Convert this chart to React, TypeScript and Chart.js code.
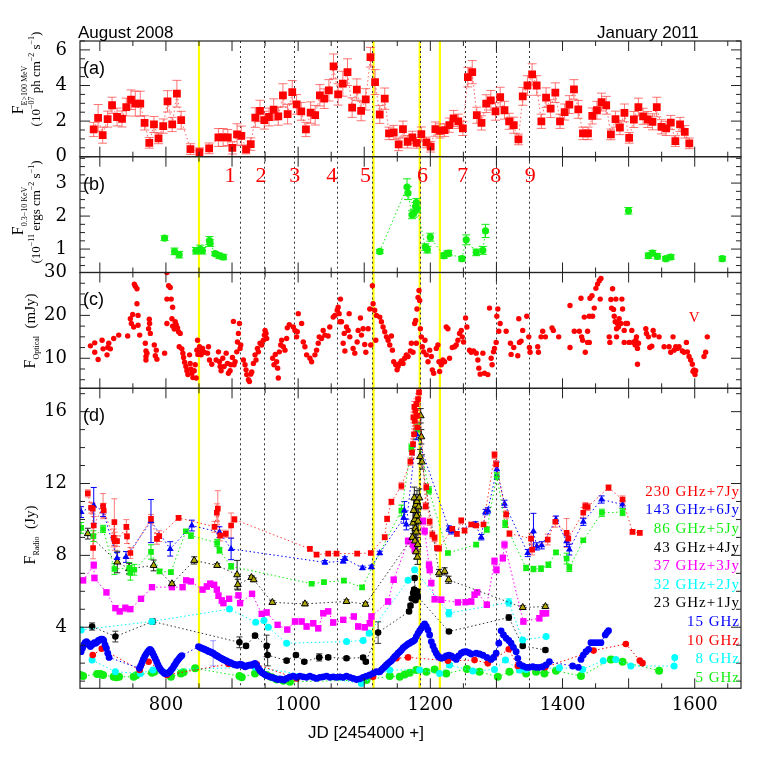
import React, { useEffect, useRef } from 'react';
import { Chart, registerables } from 'chart.js';
Chart.register(...registerables);

// ---------------- DATA ----------------
const X_MIN = 670;
const X_MAX = 1670;
const X_LABELS = [800, 1000, 1200, 1400, 1600];

const yellowLines = [850, 1114, 1184, 1214.5];
const eventLines = [912, 949, 994, 1059, 1112, 1184, 1253, 1300, 1350];
const eventLabelJD = [897, 944, 995, 1051, 1102, 1188, 1249, 1299, 1351];
const eventNames = ['1', '2', '3', '4', '5', '6', '7', '8', '9'];

// (a) gamma-ray flux [JD, flux, err]
const gamma: [number, number, number][] = [
  [690.7, 1.53, 0.4], [697.4, 2.18, 0.75], [704.3, 1.21, 0.45], [711.8, 2.11, 0.45], [718.5, 2.89, 0.45],
  [726, 2.23, 0.5], [733.6, 2.12, 0.45], [740, 2.79, 0.5], [747.2, 3.2, 0.55], [753.7, 2.98, 0.7],
  [761.2, 2.98, 0.7], [767.7, 1.9, 0.4], [774.8, 0.78, 0.3], [781.9, 1.81, 0.45], [788.8, 1.03, 0.3],
  [795.9, 1.72, 0.4], [802.4, 3.11, 0.6], [809.5, 1.81, 0.4], [816.6, 3.54, 0.75], [823.1, 2.05, 0.5],
  [837.1, 0.43, 0.3], [850.7, 0.25, 0.25], [865.4, 0.47, 0.3], [879.4, 1.08, 0.5], [886.5, 1.08, 0.5],
  [893.6, 1.08, 0.45], [900.5, 0.5, 0.35], [907.6, 1.25, 0.6], [914.1, 1.17, 0.55], [921.2, 0.41, 0.25],
  [928.3, 0.71, 0.35], [935.2, 2.2, 0.55], [942.3, 2.57, 0.6], [948.8, 2.05, 0.5], [955.9, 2.23, 0.5],
  [963, 2.65, 0.6], [970, 2.27, 0.5], [977, 3.45, 0.65], [984.1, 2.39, 0.55], [991.1, 3.63, 0.65],
  [997.7, 2.94, 0.55], [1004.7, 2.55, 0.5], [1011.8, 1.53, 0.4], [1018.9, 2.48, 0.6], [1025.8, 2.33, 0.55],
  [1032.9, 3.45, 0.6], [1039.4, 3.26, 0.55], [1046.5, 3.73, 0.6], [1053.6, 5.07, 0.7], [1060.5, 3.5, 0.6],
  [1067.6, 4.1, 0.7], [1074.7, 4.75, 0.75], [1081.7, 2.76, 0.55], [1088.8, 3.77, 0.6], [1095.3, 2.57, 0.55],
  [1102.3, 3.22, 0.6], [1109.4, 5.59, 0.55], [1116.4, 4.19, 0.7], [1123.5, 2.37, 0.5], [1131, 3.26, 0.6],
  [1137.5, 1.31, 0.35], [1144.6, 1.36, 0.4], [1152.1, 0.69, 0.35], [1158.6, 1.55, 0.45], [1165.7, 0.84, 0.35],
  [1172.8, 1.08, 0.35], [1179.3, 0.78, 0.3], [1186.4, 1.27, 0.4], [1194, 0.8, 0.3], [1200.5, 0.56, 0.3],
  [1207.6, 1.55, 0.4], [1214.5, 1.45, 0.4], [1221.6, 1.49, 0.35], [1228.7, 1.77, 0.4], [1235.2, 2.15, 0.45],
  [1242.3, 1.99, 0.4], [1249.2, 1.59, 0.4], [1256.8, 4.47, 0.55], [1263.4, 4.75, 0.65], [1270.3, 2.33, 0.45],
  [1277.4, 1.9, 0.4], [1284.5, 2.98, 0.5], [1291.5, 3.17, 0.55], [1298.6, 2.55, 0.5], [1305.7, 3.35, 0.55],
  [1312.2, 2.61, 0.5], [1319.2, 1.99, 0.45], [1326.2, 1.77, 0.45], [1333.3, 0.97, 0.3], [1339.8, 3.39, 0.5],
  [1346.9, 4.0, 0.55], [1354, 4.62, 0.6], [1360.9, 4.0, 0.55], [1368, 1.99, 0.4], [1375.1, 3.32, 0.55],
  [1382, 2.7, 0.5], [1389.1, 3.6, 0.55], [1396.2, 1.99, 0.4], [1403.2, 2.51, 0.45], [1410.3, 2.93, 0.5],
  [1417.3, 3.78, 0.55], [1423.8, 2.66, 0.5], [1430.9, 1.31, 0.35], [1438.5, 1.31, 0.35], [1445, 2.29, 0.45],
  [1452.1, 2.61, 0.5], [1459, 3.07, 0.5], [1466.1, 2.89, 0.5], [1473.2, 1.25, 0.3], [1480.1, 2.11, 0.45],
  [1486.8, 1.64, 0.4], [1493.7, 2.46, 0.5], [1500.8, 1.06, 0.3], [1507.9, 2.09, 0.45], [1514.8, 2.79, 0.5],
  [1521.9, 2.27, 0.45], [1529, 2.09, 0.45], [1536, 1.96, 0.45], [1542.6, 2.79, 0.55], [1549.6, 1.68, 0.4],
  [1556.7, 1.59, 0.4], [1563.8, 1.92, 0.4], [1570.7, 0.88, 0.3], [1577.8, 1.81, 0.4], [1584.9, 1.4, 0.35],
  [1591.8, 0.75, 0.3],
];

// (b) X-ray flux [JD, flux, err]
const xray: [number, number, number][] = [
  [797.9, 1.33, 0.07], [813, 0.93, 0.1], [820, 0.83, 0.1], [845.3, 0.95, 0.1], [851.8, 1.0, 0.12],
  [855.2, 0.95, 0.1], [865.8, 1.26, 0.12], [866.9, 1.18, 0.1], [874.4, 0.86, 0.06], [880.5, 0.8, 0.08],
  [886.9, 0.76, 0.08], [1123.5, 0.93, 0.06], [1164.7, 2.88, 0.25], [1166.2, 2.7, 0.2], [1172.2, 2.04, 0.12],
  [1175.2, 2.09, 0.12], [1177.7, 2.29, 0.12], [1178.8, 2.41, 0.12], [1180.3, 2.22, 0.12], [1192.4, 1.06, 0.1],
  [1195.5, 0.98, 0.1], [1200, 1.36, 0.12], [1220.5, 0.8, 0.08], [1225.6, 0.86, 0.08], [1227.6, 0.88, 0.08],
  [1247.7, 0.71, 0.07], [1254.3, 1.28, 0.15], [1269.4, 0.9, 0.1], [1279.4, 0.96, 0.12], [1283.5, 1.55, 0.2],
  [1499.8, 2.16, 0.1], [1530, 0.8, 0.08], [1536, 0.88, 0.08], [1543.5, 0.78, 0.08], [1556.2, 0.71, 0.07],
  [1563.8, 0.76, 0.07], [1641.7, 0.71, 0.07],
];
const xrayBreakAfter = [797.9, 820, 886.9, 1283.5, 1499.8, 1563.8];

// (c) optical flux [JD, mJy]
const optical: [number, number][] = [
  [685.8, 12.9], [692.3, 13.6], [692.3, 11.4], [697.4, 9.7], [703.4, 14.2], [704.9, 12.2], [710.9, 10.8], [712, 12.5],
  [713.5, 13.5], [716, 12.2], [721, 14.6], [728.6, 15.4], [742.1, 15.2], [746.2, 19.2], [747.7, 18.1], [749.7, 20.2],
  [751.2, 17.3], [752.2, 27.3], [753.7, 26.8], [756.2, 26.2], [756.2, 22.7], [757.8, 20], [757.8, 17.7], [760.3, 15.4],
  [768.8, 13.5], [769.8, 11.7], [769.8, 10.4], [769.8, 9.6], [771.3, 11.2], [773.8, 16.9], [774.8, 19.1], [775.3, 18.1],
  [776.4, 15.8], [782.4, 13.1], [783.9, 10.6], [785.4, 11.9], [786.4, 9.8], [798, 11.2], [801.5, 30], [801.5, 23.8],
  [801.5, 18.1], [804, 26.9], [806.5, 26.5], [808, 23.8], [810.1, 21.9], [809.1, 19.2], [810.1, 17.5], [812.6, 16.8],
  [814.1, 18.5], [815.6, 17.8], [817.6, 17.1], [819.1, 16.2], [821.6, 15.8], [820.1, 12.7], [824.1, 12.2], [825.6, 11.2],
  [826.7, 10.2], [828.2, 9.1], [830.2, 8.1], [831.7, 7.1], [833.2, 6.2], [835.7, 10.8], [836.7, 8.8], [837.7, 7.5],
  [839.2, 6.5], [840.8, 5.5], [842.8, 7.1], [844.3, 8.5], [845.8, 5.4], [846.8, 11.9], [847.8, 14.2], [848.3, 10.9],
  [850.8, 12.7], [851.8, 11.4], [853.3, 10.8], [855.4, 12.3], [857.9, 11.4], [862.9, 11.2], [864.4, 12.7], [865.9, 9.6],
  [869.4, 8.6], [876, 9.6], [879.5, 11.5], [881, 9.2], [882, 8.1], [883.5, 7.1], [886, 10], [888, 8.1],
  [891.1, 11.2], [893.1, 8.8], [894.6, 6.5], [897.1, 7.1], [898.1, 8.5], [900.6, 10.2], [902.1, 18.6], [903.1, 8.5],
  [904.6, 9.2], [907.2, 11.5], [908.2, 13.8], [909.7, 15.8], [911.2, 18.1], [912.2, 12.3], [913.2, 13.1], [917.2, 9.6],
  [919.7, 8.5], [921.2, 7.3], [922.2, 6.2], [924.8, 5], [926.3, 4.6], [928.3, 6.3], [929.8, 6.8], [932.3, 8.8],
  [934.8, 10.8], [936.3, 9.6], [938.4, 12.3], [939.9, 11.5], [942.4, 13.5], [944.9, 13.1], [947.4, 14.2], [948.9, 15.4],
  [949.9, 16.5], [951.4, 15.8], [952.4, 14.6], [961.5, 10], [963.5, 8.5], [965.5, 10.9], [967.5, 9.2], [969, 7.7],
  [970, 5.4], [971.6, 11.5], [973.6, 13.1], [975.1, 14.2], [977.6, 12.7], [980.1, 11.9], [982.6, 14.6], [983.6, 17.1],
  [986.6, 17.8], [992.7, 17.3], [995.2, 16.5], [997.7, 15], [998.7, 16.2], [1000.2, 20.4], [1005.3, 18.1], [1007.8, 13.8],
  [1010.3, 12.7], [1012.8, 10.8], [1017.9, 10], [1020.4, 9.2], [1025.4, 10.8], [1027.9, 11.9], [1030.4, 13.5], [1031.9, 15],
  [1035.4, 14.6], [1037.9, 16.5], [1040.4, 15.4], [1045.4, 15.2], [1047.9, 17.3], [1053.1, 19.6], [1055.6, 20], [1059.1, 21.2],
  [1060.6, 21.9], [1062.1, 20.4], [1064.1, 23.8], [1063.1, 18.5], [1065.6, 18.5], [1068.1, 13.5], [1069.7, 15.8], [1070.7, 11.7],
  [1073.2, 17.3], [1075.7, 16.5], [1077.2, 20.4], [1078.2, 15], [1083.2, 12.3], [1085.7, 11.2], [1089.3, 13.8], [1090.8, 16.5],
  [1094.3, 19.4], [1095.8, 15.4], [1098.3, 16.9], [1100.8, 13.2], [1102.4, 11.4], [1105.9, 16.9], [1108.4, 21.5], [1109.9, 13.1],
  [1112.4, 26.9], [1113.4, 22.7], [1115.9, 21.2], [1117.5, 14.2], [1118.5, 20],
  [1123.5, 19.6], [1126, 18.5], [1128.5, 17.3], [1131, 16.2], [1133.6, 15], [1136.1, 14.2], [1138.6, 13.1], [1141.1, 15.2],
  [1142.6, 11.9], [1144.6, 9.2], [1147.6, 8.5], [1149.7, 7.3], [1151.2, 8.1], [1153.7, 8.8], [1156.2, 9.4], [1158.7, 8.8],
  [1161.2, 10], [1163.7, 10.8], [1166.3, 10.4], [1169.8, 11.7], [1171.3, 13.5], [1173.8, 11.4], [1176.3, 18.1], [1177.8, 18.8],
  [1178.8, 13.5], [1179.8, 21.5], [1181.4, 24.2], [1182.9, 25.8], [1183.9, 23.5], [1184.9, 16.9], [1186.4, 15], [1187.9, 12.7],
  [1189.9, 11.5], [1191.9, 14.2], [1193.9, 10.8], [1196.5, 9.2], [1199, 11.9], [1201.5, 10.4], [1203, 7.3], [1205, 6.5],
  [1209, 12.3], [1211.5, 13.1], [1213.1, 9.2], [1214.1, 6.9], [1216.6, 8.5], [1219.1, 9.6], [1221.6, 9.2], [1224.1, 17.3],
  [1226.6, 16.9], [1229.1, 10], [1233.2, 12.5], [1236.7, 12.7], [1239.2, 13.1], [1241.7, 14.2], [1244.2, 15.8], [1246.8, 16.5],
  [1248.3, 15], [1250.3, 13.8], [1253.3, 19.4], [1255.3, 17.3], [1259.3, 11.9], [1261.9, 11.4], [1265.4, 11.7], [1269.4, 11.2],
  [1271.9, 9.6], [1273.4, 7.7], [1275.4, 6.3], [1279.5, 11.2], [1282, 6.5], [1287, 6.2], [1289.5, 21.7], [1292, 10],
  [1293.5, 8.5], [1295.6, 11.5], [1297.1, 12.3], [1299.6, 13.7], [1300.6, 19.8], [1302.1, 21.5], [1303.6, 16.3], [1305.6, 18.1],
  [1314.7, 16.3], [1321.2, 13.5], [1322.2, 10.9], [1326.2, 12.5], [1332.3, 10.6], [1333.8, 19.2], [1334.8, 13.7], [1337.3, 14],
  [1339.8, 16.5], [1345.9, 19.8], [1348.9, 15], [1349.9, 12.5], [1350.9, 11.4], [1362.5, 12.7], [1363.5, 11.4], [1367.5, 15],
  [1370, 16.3], [1374.1, 15], [1384.1, 17.1], [1386.1, 16.5], [1394.2, 15], [1411.3, 12.5], [1411.3, 22.3], [1417.8, 16.3],
  [1425.4, 16.3], [1427.9, 24], [1428.9, 15], [1430.4, 14.2], [1432.9, 19.6], [1434.4, 11.4], [1437.9, 16.3], [1437.9, 13.7],
  [1440.5, 13.7], [1440.5, 19.8], [1441.5, 24], [1444.5, 24.6], [1445.5, 19.8], [1448, 21.7], [1450.5, 26.3], [1453, 27.3],
  [1455.6, 28.1], [1458.1, 28.6], [1457, 23.8], [1470.6, 15], [1471.6, 13.7], [1473.2, 23.7], [1474.2, 21.7], [1475.7, 26.2],
  [1477.2, 21.4], [1478.2, 19.8], [1479.7, 18.5], [1480.7, 23.8], [1481.7, 15], [1481.7, 16.9], [1483.2, 18.1], [1484.7, 17.3],
  [1485.7, 19.2], [1488.3, 18.1], [1489.8, 23.8], [1490.8, 21.5], [1493.3, 16.5], [1495.8, 18.1], [1498.3, 18.1], [1493.3, 13.7],
  [1500.8, 13.7], [1504.8, 16.5], [1506.9, 13.7], [1508.4, 13.8], [1509.9, 13.1], [1510.9, 14.2], [1511.9, 15], [1513.4, 8.6],
  [1513.4, 12.3], [1514.9, 13.5], [1526, 16.9], [1527, 15.8], [1530, 15], [1532, 12.5], [1535, 12.8], [1537.1, 16.5],
  [1538.6, 15.4], [1546.1, 15], [1553.7, 12.7], [1561.2, 12.7], [1563.7, 11.4], [1567.2, 15], [1568.8, 11.9], [1571.3, 12.7],
  [1573.8, 12.3], [1576.3, 12.7], [1581.3, 11.7], [1583.8, 11.4], [1587.4, 13.7], [1588.9, 11.5], [1591.4, 10.4], [1593.9, 9.6],
  [1596.4, 8.6], [1597.4, 6.9], [1598.9, 7.3], [1600.4, 6.2], [1601.4, 7.1], [1614, 10.4], [1616.5, 11.4], [1619, 15],
];

// (d) radio flux densities (plotted values include the legend offsets) [JD, Jy, err]
const r230: [number, number, number][] = [
  [681.8, 11.45, 0.2], [686.8, 10.65, 0.3], [689.3, 10.6, 0.3], [689.8, 8.41, 0.6], [690.8, 9.66, 0.5],
  [704.9, 10.74, 0.7], [705.9, 10.5, 0.4], [721, 8.97, 0.5], [722, 9.85, 1.3], [722.5, 8.79, 0.5],
  [726, 8.79, 0.3], [740.1, 9.59, 0.4], [741.1, 9.06, 0.4], [746.2, 8.13, 0.3], [777.4, 10.03, 0.25],
  [786.4, 8.92, 0.3], [789.9, 9.07, 0.3], [819.1, 10.09, 0.12], [873.5, 9.59, 0.3], [877, 10.37, 0.5],
  [878.5, 10.6, 1.0], [882, 9.1, 0.3], [890.6, 9.2, 0.2], [898.6, 9.66, 0.7], [903.6, 10.0, 0.15],
  [1017.8, 8.36, 0.1], [1027.9, 8.04, 0.1], [1045.5, 8.1, 0.1], [1058.1, 8.1, 0.1], [1089.3, 8.1, 0.1],
  [1109.9, 8.13, 0.1], [1131, 9.01, 0.15], [1134.6, 10.03, 0.15], [1141.1, 10.98, 0.15], [1156.2, 11.86, 0.2],
  [1169.8, 13.22, 0.2], [1172.3, 13.72, 0.3], [1173.8, 14.19, 0.3], [1174.3, 15.68, 0.3], [1175.3, 14.74, 0.3],
  [1175.8, 16.27, 0.3], [1176.3, 15.49, 0.3], [1177.3, 16.05, 0.3], [1178.8, 16.42, 0.3], [1179.8, 15.77, 0.3],
  [1180.4, 15.12, 0.3], [1181.4, 16.7, 0.3], [1182.9, 17.07, 0.3], [1192.9, 10.74, 0.2], [1193.9, 11.8, 0.2],
  [1199, 9.87, 0.2], [1203, 9.16, 0.2], [1206.5, 8.97, 0.2], [1210, 8.41, 0.15], [1213.1, 8.38, 0.15],
  [1233.2, 9.48, 0.12], [1240.2, 9.2, 0.12], [1246.8, 9.94, 0.15], [1251.8, 9.38, 0.12], [1261.9, 9.72, 0.12],
  [1269.4, 9.66, 0.12], [1280.5, 9.72, 0.12], [1297.1, 13.59, 0.2], [1299.6, 13.07, 0.2], [1314.7, 10.28, 0.2],
  [1319.7, 9.21, 0.15], [1352.4, 8.93, 0.3], [1353.9, 8.32, 0.3], [1377.6, 8.88, 0.3], [1389.1, 9.87, 0.3],
  [1406.2, 9.25, 0.8], [1408.8, 8.93, 0.3], [1431.4, 10.37, 0.3], [1434.4, 10.74, 0.2], [1438, 10.69, 0.2],
  [1469.6, 11.77, 0.15], [1490.8, 11.11, 0.2], [1505.9, 9.31, 0.1], [1516.9, 9.25, 0.1],
];
const r143: [number, number, number][] = [
  [671.7, 10.41, 0.3], [690.8, 10.78, 1.0], [704.9, 10.46, 0.3], [726, 7.85, 0.3], [739.6, 7.91, 0.3],
  [777.4, 9.91, 1.2], [806.5, 8.36, 0.4], [839.2, 9.66, 0.3], [881, 9.29, 0.3], [898.6, 8.36, 0.6],
  [1040.5, 7.61, 0.1], [1068.2, 7.67, 0.1], [1070.7, 7.82, 0.1], [1097.3, 7.3, 0.1], [1110.9, 7.35, 0.1],
  [1123.5, 8.13, 0.1], [1159.7, 10.09, 0.3], [1160.7, 10.5, 0.5], [1163.7, 9.72, 0.3], [1178.8, 14.74, 0.3],
  [1228.1, 9.49, 0.15], [1231.7, 9.34, 0.15], [1268.4, 9.72, 0.15], [1277, 9.01, 0.15], [1283.5, 10.41, 0.15],
  [1287, 10.5, 0.15], [1300.6, 12.79, 0.4], [1312.2, 10.87, 0.2], [1347.4, 8.13, 0.2], [1356, 9.34, 1.0],
  [1361, 8.5, 0.2], [1368.5, 8.56, 0.2], [1390.1, 9.99, 0.2], [1406.2, 8.79, 0.3], [1410.3, 8.32, 0.3],
  [1431.4, 9.87, 0.2], [1459.1, 11.11, 0.2], [1490.8, 10.83, 0.2],
];
const r86: [number, number, number][] = [
  [671.7, 9.53, 0.3], [690.3, 9.07, 0.3], [704.9, 9.47, 0.2], [722, 7.24, 0.3], [744.7, 7.3, 0.3],
  [746.2, 7.02, 0.4], [752.2, 7.2, 0.3], [777.4, 8.19, 0.4], [790.4, 7.11, 0.1], [807.5, 7.07, 0.1],
  [830.2, 9.34, 0.1], [837.8, 9.1, 0.15], [877.5, 8.69, 0.2], [881, 8.28, 0.15], [898.6, 7.39, 0.15],
  [1020.4, 6.42, 0.1], [1039, 6.51, 0.1], [1069.2, 6.59, 0.1], [1096.8, 6.22, 0.1], [1156.2, 10.5, 0.3],
  [1171.3, 14.0, 0.2], [1180, 15.0, 0.3], [1198, 11.62, 0.2], [1226.6, 8.13, 0.1], [1269.4, 8.6, 0.1],
  [1285.5, 9.44, 0.15], [1300.6, 12.42, 0.2], [1313.2, 9.75, 0.2], [1344.9, 7.3, 0.15], [1356, 7.24, 0.15],
  [1367.5, 7.26, 0.15], [1378.6, 7.48, 0.15], [1390.1, 8.17, 0.1], [1406.2, 7.82, 0.3], [1410.3, 7.3, 0.2],
  [1431.4, 8.84, 0.1], [1459.6, 10.37, 0.2], [1490.8, 10.41, 0.2],
];
const r43: [number, number, number][] = [
  [681.8, 9.21, 0.3], [726.4, 7.63, 0.6], [744.2, 7.26, 0.3], [781.4, 7.44, 0.3], [809.1, 6.42, 0.1],
  [842.8, 7.72, 0.2], [877.5, 7.44, 0.1], [907.7, 6.92, 0.8], [908.7, 6.37, 0.3], [929.3, 6.77, 0.1],
  [932.8, 6.64, 0.1], [961, 5.38, 0.1], [1010.3, 5.3, 0.1], [1073.2, 5.43, 0.1], [1101.9, 5.28, 0.1],
  [1172.8, 9.0, 0.5], [1173.8, 9.8, 0.6], [1174.8, 10.5, 0.6], [1175.8, 11.2, 0.6], [1176.3, 10.0, 0.5],
  [1176.8, 8.8, 0.5], [1177.3, 9.5, 0.5], [1177.8, 10.8, 0.6], [1178.3, 8.2, 0.4], [1178.8, 9.3, 0.5],
  [1179.3, 10.2, 0.5], [1179.8, 11.0, 0.6], [1180.4, 7.9, 0.4], [1180.9, 8.6, 0.4], [1181.4, 9.9, 0.5],
  [1182.4, 10.7, 0.5], [1183.4, 11.2, 0.5], [1184.4, 13.5, 0.4], [1185.4, 15.77, 0.4], [1186.4, 14.6, 0.4],
  [1187.4, 13.2, 0.4], [1213.1, 7.02, 0.2], [1221.6, 7.11, 0.2], [1227.6, 6.64, 0.2], [1339.8, 5.1, 0.1],
  [1374.1, 5.15, 0.1],
];
const r37: [number, number, number][] = [
  [674.7, 6.61, 0.15], [690.8, 7.45, 0.2], [691.8, 6.74, 0.15], [710, 5.94, 0.15], [723.5, 5.06, 0.15],
  [730.1, 4.88, 0.15], [738.6, 5.06, 0.2], [746.2, 5.01, 0.15], [762.3, 5.58, 0.15], [778.9, 6.23, 0.15],
  [809.1, 6.23, 0.15], [825.2, 6.23, 0.15], [830.7, 6.61, 0.15], [837.8, 6.55, 0.15], [855.4, 6.09, 0.15],
  [861.9, 6.27, 0.15], [867, 6.42, 0.15], [873, 6.36, 0.15], [877, 6.09, 0.15], [879.5, 5.75, 0.15],
  [884.5, 5.49, 0.15], [887, 5.34, 0.15], [895.6, 5.58, 0.15], [909.7, 5.77, 0.15], [912.2, 5.34, 0.15],
  [930.3, 5.86, 0.15], [944.9, 4.74, 0.15], [952.4, 4.82, 0.15], [969, 4.13, 0.15], [983.6, 3.87, 0.15],
  [995.2, 4.32, 0.15], [1005.3, 4.32, 0.15], [1012.8, 4.04, 0.15], [1022.9, 4.22, 0.15], [1030.4, 3.94, 0.15],
  [1038, 4.78, 0.15], [1045.5, 4.88, 0.15], [1053.1, 4.26, 0.15], [1068.2, 4.41, 0.15], [1084.3, 4.6, 0.15],
  [1090.8, 4.04, 0.15], [1100.8, 4.0, 0.15], [1108.4, 4.22, 0.15], [1110.9, 4.6, 0.15], [1136.1, 5.43, 0.15],
  [1144.6, 6.64, 0.15], [1166.3, 8.79, 0.2], [1173.8, 8.6, 0.2], [1176.3, 8.32, 0.2], [1188.9, 9.9, 0.2],
  [1191.4, 9.34, 0.2], [1198, 7.48, 0.2], [1199, 7.2, 0.2], [1201.5, 6.46, 0.15], [1206.5, 5.56, 0.15],
  [1216.6, 5.53, 0.15], [1241.7, 5.38, 0.15], [1253.3, 5.4, 0.15], [1261.9, 5.43, 0.15], [1266.9, 5.81, 0.15],
  [1270.9, 5.94, 0.15], [1285.5, 5.25, 0.15], [1297.1, 7.67, 0.2], [1300.1, 7.2, 0.2], [1309.7, 7.85, 0.2],
  [1312.2, 8.6, 0.2], [1340.8, 4.32, 0.15], [1365, 4.5, 0.15], [1370, 4.78, 0.15], [1375.1, 4.78, 0.15],
];
const r32: [number, number, number][] = [
  [671.7, 3.85, 0], [778.9, 4.32, 0], [896.1, 5.01, 0], [935.8, 4.28, 0], [948.4, 4.37, 0],
  [954.9, 4.0, 0], [982.6, 3.11, 0], [1073.2, 3.2, 0], [1098.3, 3.26, 0], [1107.4, 3.66, 0],
  [1166.3, 6.61, 0], [1176.3, 7.2, 0], [1228.1, 4.78, 0.2], [1318.7, 5.38, 0.2], [1339.8, 3.29, 0],
  [1375.1, 3.48, 0],
];
const r23: [number, number, number][] = [
  [688.3, 4.04, 0.2], [723.5, 3.48, 0.3], [779.9, 4.32, 0.15], [911.2, 3.16, 0.3], [921.2, 2.96, 0.1],
  [934.8, 3.53, 0.1], [952.4, 2.96, 0.6], [953.9, 2.45, 0.6], [982.6, 2.14, 0.1], [996.7, 2.45, 0.1],
  [1009.3, 2.08, 0.1], [1031.9, 2.32, 0.2], [1045.5, 2.32, 0.1], [1073.2, 2.27, 0.1], [1098.3, 2.31, 0.1],
  [1102.4, 2.08, 0.1], [1121, 3.7, 0.6], [1167.8, 4.88, 0.1], [1170, 5.2, 0.1], [1172, 5.6, 0.1],
  [1174, 5.9, 0.1], [1175.5, 6.1, 0.1], [1176.3, 6.74, 0.1], [1177.5, 5.5, 0.1], [1178.8, 5.9, 0.1],
  [1180, 6.0, 0.1], [1181, 5.7, 0.1], [1228.1, 3.76, 0.1], [1318.7, 4.54, 0.15], [1339.8, 2.96, 0.1],
  [1374.1, 2.73, 0.1],
];
const r15: [number, number, number][] = [
  [671.7, 2.64, 0], [673.7, 2.83, 0], [675.7, 3.01, 0], [677.7, 3.14, 0], [679.8, 3.2, 0], [681.8, 3.11, 0],
  [683.8, 3.01, 0], [685.8, 2.92, 0], [687.8, 3.01, 0], [689.8, 3.07, 0], [691.8, 3.14, 0], [693.8, 3.11, 0],
  [695.9, 3.18, 0], [697.9, 3.26, 0], [699.9, 3.29, 0], [701.9, 3.33, 0], [703.9, 3.33, 0], [705.9, 3.26, 0],
  [707.9, 3.01, 0], [709.9, 2.83, 0], [712, 2.55, 0], [714, 2.32, 0],
  [759.8, 1.71, 0], [761.8, 1.84, 0], [763.8, 2.03, 0], [765.8, 2.21, 0], [767.8, 2.36, 0], [769.8, 2.49, 0],
  [771.8, 2.6, 0], [773.8, 2.7, 0], [775.9, 2.77, 0], [777.9, 2.7, 0], [779.9, 2.55, 0], [781.9, 2.4, 0],
  [783.9, 2.25, 0], [785.9, 2.08, 0], [787.9, 1.91, 0], [789.9, 1.77, 0], [791.9, 1.65, 0], [794, 1.56, 0],
  [796, 1.49, 0], [798, 1.43, 0], [800, 1.41, 0], [802, 1.43, 0], [804, 1.47, 0], [806, 1.52, 0],
  [808, 1.62, 0], [810.1, 1.71, 0], [812.1, 1.84, 0], [814.1, 1.95, 0], [816.1, 2.08, 0], [818.1, 2.17, 0],
  [820.1, 2.27, 0], [822.1, 2.36, 0], [824.1, 2.42, 0],
  [849.3, 2.92, 0], [851.3, 2.88, 0], [853.3, 2.85, 0], [855.3, 2.81, 0], [857.4, 2.79, 0], [859.4, 2.75, 0],
  [861.4, 2.72, 0], [863.4, 2.68, 0], [865.4, 2.64, 0], [867.4, 2.62, 0], [869.4, 2.58, 0], [871.4, 2.55, 0.7],
  [873.5, 2.49, 0], [875.5, 2.44, 0], [877.5, 2.4, 0], [879.5, 2.36, 0], [881.5, 2.31, 0], [883.5, 2.27, 0],
  [885.5, 2.23, 0], [887.5, 2.19, 0], [889.6, 2.16, 0], [891.6, 2.12, 0], [893.6, 2.08, 0], [895.6, 2.04, 0],
  [897.6, 2.03, 0], [899.6, 1.99, 0], [901.6, 1.95, 0], [903.6, 1.93, 0], [905.7, 1.9, 0], [907.7, 1.88, 0],
  [909.7, 1.9, 0], [912.2, 1.95, 0], [914.7, 1.91, 0], [917.2, 1.86, 0], [919.7, 1.8, 0], [922.3, 1.84, 0],
  [924.8, 1.88, 0], [927.3, 1.9, 0], [929.8, 1.88, 0], [932.3, 1.95, 0], [934.8, 1.99, 0], [937.3, 1.88, 0],
  [939.9, 1.71, 0], [942.4, 1.58, 0], [945.4, 1.47, 0], [948.4, 1.39, 0], [951.4, 1.32, 0], [954.5, 1.28, 0],
  [957.5, 1.24, 0], [960.5, 1.21, 0], [963.5, 1.17, 0], [966.5, 1.13, 0], [969.5, 1.09, 0], [972.6, 1.13, 0],
  [975.6, 1.09, 0], [978.6, 1.06, 0], [982.6, 1.15, 0], [987.7, 1.24, 0], [992.7, 1.28, 0], [997.7, 1.21, 0],
  [1002.7, 1.28, 0], [1007.8, 1.24, 0], [1012.8, 1.21, 0], [1017.8, 1.28, 0], [1022.9, 1.21, 0], [1027.9, 1.15, 0],
  [1032.9, 1.21, 0], [1037.9, 1.24, 0], [1043, 1.28, 0], [1048, 1.21, 0], [1053.1, 1.24, 0], [1058.1, 1.21, 0],
  [1063.1, 1.24, 0], [1068.2, 1.21, 0], [1073.2, 1.28, 0], [1078.2, 1.21, 0], [1083.3, 1.15, 0], [1088.3, 1.09, 0],
  [1093.3, 1.13, 0], [1098.3, 1.21, 0], [1103.4, 1.28, 0], [1108.4, 1.34, 0], [1113.4, 1.43, 0], [1118.5, 1.52, 0],
  [1123.5, 1.52, 0], [1126, 1.62, 0], [1128.5, 1.71, 0], [1131, 1.8, 0], [1133.6, 1.9, 0], [1136.1, 1.99, 0],
  [1138.6, 2.06, 0], [1141.1, 2.14, 0], [1143.6, 2.25, 0], [1146.1, 2.36, 0], [1148.7, 2.45, 0], [1151.2, 2.55, 0],
  [1153.7, 2.64, 0], [1156.2, 2.73, 0], [1158.7, 2.85, 0], [1161.2, 2.92, 0], [1163.7, 2.99, 0], [1166.3, 3.07, 0],
  [1168.8, 3.11, 0], [1171.3, 3.18, 0], [1173.8, 3.22, 0], [1176.3, 3.29, 0], [1178.8, 3.48, 0], [1181.4, 3.66, 0],
  [1183.9, 3.81, 0], [1186.4, 3.94, 0], [1188.9, 4.07, 0], [1191.4, 4.19, 0], [1193.9, 4.04, 0], [1196.5, 3.85, 0],
  [1199, 3.57, 0], [1201.5, 3.2, 0], [1204, 2.96, 0], [1206.5, 2.73, 0], [1209, 2.55, 0], [1211.5, 2.4, 0],
  [1214.1, 2.32, 0], [1216.6, 2.27, 0], [1220.1, 2.31, 0], [1224.1, 2.4, 0], [1228.1, 2.45, 0], [1231.7, 2.4, 0],
  [1235.2, 2.32, 0], [1239.2, 2.21, 0], [1242.7, 2.4, 0], [1246.8, 2.55, 0], [1250.3, 2.62, 0], [1254.3, 2.64, 0],
  [1258.3, 2.58, 0], [1261.9, 2.51, 0], [1269.4, 2.55, 0], [1274.4, 2.51, 0], [1279.5, 2.44, 0], [1285.5, 2.32, 0],
  [1292, 2.21, 0], [1295.6, 2.32, 0], [1299.6, 2.55, 0], [1303.6, 3.11, 0], [1307.1, 3.8, 0], [1310.7, 3.57, 0],
  [1314.7, 3.39, 0], [1318.7, 3.26, 0], [1322.2, 3.11, 0], [1325.7, 2.88, 0], [1329.8, 2.64, 0], [1332.3, 2.27, 0],
  [1334.8, 1.95, 0], [1339.8, 1.84, 0], [1344.9, 1.77, 0], [1349.9, 1.77, 0], [1355, 1.8, 0], [1360, 1.77, 0],
  [1365, 1.77, 0], [1370, 1.8, 0], [1375.1, 1.9, 0], [1380.1, 2.08, 0], [1415.3, 1.84, 0], [1423.9, 1.77, 0],
  [1427.9, 2.21, 0], [1431.4, 2.45, 0], [1435.4, 2.64, 0], [1439.5, 2.77, 0], [1443, 3.14, 0], [1448, 3.14, 0],
  [1453, 3.14, 0], [1458.1, 3.14, 0], [1464.6, 3.57, 0], [1467.1, 3.7, 0], [1469.6, 3.81, 0],
];
const r10: [number, number, number][] = [
  [689.3, 2.45, 0], [702.9, 2.8, 0], [760.3, 1.62, 0], [773.8, 2.08, 0], [801.5, 1.34, 0], [894.6, 1.95, 0],
  [937.3, 1.93, 0], [997.7, 1.15, 0], [1113.4, 1.24, 0], [1148.7, 2.27, 0], [1166.3, 2.32, 0], [1226.6, 2.14, 0],
  [1266.9, 2.17, 0], [1287, 1.99, 0], [1318.7, 2.77, 0], [1332.3, 1.84, 0], [1347.4, 1.77, 0], [1373.6, 1.77, 0],
  [1447, 2.7, 0], [1495.8, 3.07, 0], [1516.9, 2.14, 0], [1521, 2.0, 0],
];
const r8: [number, number, number][] = [
  [688.3, 2.17, 0], [723.5, 1.52, 0], [761.3, 1.43, 0], [780.4, 1.62, 0], [934.8, 1.77, 0], [1095.8, 0.87, 0],
  [1138.6, 1.62, 0], [1183.9, 1.62, 0], [1214, 1.43, 0], [1229.1, 1.9, 0], [1264.4, 1.56, 0], [1297.1, 1.65, 0],
  [1313.7, 2.17, 0], [1334.8, 1.62, 0], [1344.9, 1.65, 0], [1395.2, 1.75, 0], [1430.4, 1.65, 0], [1461.6, 2.14, 0],
  [1480.7, 2.21, 0], [1503.3, 1.84, 0], [1568.8, 1.84, 0], [1569.8, 2.32, 0],
];
const r5: [number, number, number][] = [
  [670.7, 1.34, 0], [674.7, 1.28, 0], [695.9, 1.39, 0], [700.9, 1.39, 0], [704.9, 1.34, 0], [721, 1.24, 0],
  [725, 1.21, 0], [729.1, 1.24, 0], [751.2, 1.24, 0], [755.2, 1.32, 0], [778.9, 1.47, 0], [782.4, 1.52, 0],
  [807.5, 1.24, 0], [822.6, 1.43, 0], [826.7, 1.5, 0], [844.2, 1.71, 0], [911.2, 1.28, 0], [914.7, 1.21, 0],
  [934.8, 1.43, 0], [952.4, 1.34, 0], [960, 1.21, 0], [967.5, 1.09, 0], [977.6, 1.02, 0], [987.7, 0.96, 0],
  [1103.4, 1.06, 0], [1138.6, 1.28, 0], [1153.7, 1.24, 0], [1161.2, 1.37, 0], [1168.8, 1.47, 0], [1178.8, 1.62, 0],
  [1194, 1.52, 0], [1206.5, 1.65, 0], [1224.1, 1.43, 0], [1255.3, 1.67, 0], [1274.4, 1.52, 0], [1302.1, 1.24, 0],
  [1319.7, 1.52, 0], [1344.9, 1.43, 0], [1360, 1.52, 0], [1372.6, 1.43, 0], [1390.1, 1.58, 0], [1427.9, 1.28, 0],
  [1473.2, 2.21, 0], [1490.8, 2.08, 0], [1546.1, 1.58, 0],
];

const legendLabels = ['230 GHz+7Jy', '143 GHz+6Jy', '86 GHz+5Jy', '43 GHz+4Jy', '37 GHz+3Jy', '32 GHz+2Jy',
  '23 GHz+1Jy', '15 GHz', '10 GHz', '8 GHz', '5 GHz'];

// ---------------- STYLE / LAYOUT ----------------
const RED = '#ff0000';
const GREEN = '#11ee11';
const BLUE = '#0000ff';
const MAGENTA = '#ff00ff';
const CYAN = '#00ffff';
const BLACK = '#000000';
const legendColors = [RED, BLUE, GREEN, BLACK, MAGENTA, CYAN, BLACK, BLUE, RED, CYAN, GREEN];

const SERIF = '"Liberation Serif", "Times New Roman", serif';
const TICKFONT = '"DejaVu Serif", serif';
const SANS = '"Liberation Sans", Arial, sans-serif';

const W = 758, H = 758;
const LEFT = 80, RIGHT = 741;
const Y_AXIS_W = 45;
const X_AXIS_H = 30;

type PanelSpec = {
  top: number; bottom: number; yMin: number; yMax: number; yStep: number; yLabels: number[];
  tag: string;
  titles: { x: number; y: number; runs: [string, number, number][] }[];
};

const PANELS: PanelSpec[] = [
  {
    top: 41, bottom: 156.7, yMin: 0, yMax: 6.5, yStep: 0.5, yLabels: [0, 2, 4, 6], tag: '(a)',
    titles: [
      { x: 23, y: 90, runs: [['F', 16, 0], ['E>100 MeV', 8, 4]] },
      { x: 40, y: 79, runs: [['(10', 13, 0], ['−07', 8, -6], [' ph cm', 13, 0], ['−2', 8, -6], [' s', 13, 0], ['−1', 8, -6], [')', 13, 0]] },
    ],
  },
  {
    top: 156.7, bottom: 272.5, yMin: 0.29, yMax: 3.8, yStep: 0.25, yLabels: [1, 2, 3], tag: '(b)',
    titles: [
      { x: 23, y: 211, runs: [['F', 16, 0], ['0.3−10 KeV', 8, 4]] },
      { x: 40, y: 212, runs: [['(10', 13, 0], ['−11', 8, -6], [' ergs cm', 13, 0], ['−2', 8, -6], [' s', 13, 0], ['−1', 8, -6], [')', 13, 0]] },
    ],
  },
  {
    top: 272.5, bottom: 388.3, yMin: 3, yMax: 30, yStep: 2.5, yLabels: [10, 20, 30], tag: '(c)',
    titles: [{ x: 35, y: 331, runs: [['F', 16, 0], ['Optical', 8, 4], ['  (mJy)', 15, 0]] }],
  },
  {
    top: 388.3, bottom: 688.3, yMin: 0.6, yMax: 17.3, yStep: 1, yLabels: [4, 8, 12, 16], tag: '(d)',
    titles: [{ x: 35, y: 535, runs: [['F', 16, 0], ['Radio', 8, 4], ['  (Jy)', 15, 0]] }],
  },
];

function drawRotated(ctx: CanvasRenderingContext2D, x: number, yc: number, runs: [string, number, number][]) {
  ctx.save();
  ctx.translate(x, yc);
  ctx.rotate(-Math.PI / 2);
  ctx.textBaseline = 'alphabetic';
  ctx.textAlign = 'left';
  ctx.fillStyle = '#000';
  const widths = runs.map(r => { ctx.font = `${r[1]}px ${SERIF}`; return ctx.measureText(r[0]).width; });
  let pos = -widths.reduce((a, b) => a + b, 0) / 2;
  runs.forEach((r, i) => {
    ctx.font = `${r[1]}px ${SERIF}`;
    ctx.fillText(r[0], pos, r[2]);
    pos += widths[i];
  });
  ctx.restore();
}

type SeriesOpts = {
  color: string; lineColor?: string; errColor?: string; style: string; r: number;
  stroke?: string; bw?: number; line?: boolean; cap?: number; breaks?: number[];
};

function makeSeries(points: number[][], o: SeriesOpts) {
  const sorted = [...points].sort((a, b) => a[0] - b[0]);
  const lc = o.lineColor ?? o.color;
  const ds: any = {
    type: 'line',
    data: sorted.map(p => ({ x: p[0], y: p[1] })),
    errs: sorted.map(p => (p.length > 2 ? p[2] : 0)),
    errColor: o.errColor ?? o.color,
    cap: o.cap ?? 3,
    showLine: o.line !== false,
    borderColor: lc,
    borderWidth: 1,
    borderDash: [1.5, 2.5],
    pointStyle: o.style,
    pointRadius: o.r,
    pointBackgroundColor: o.color,
    pointBorderColor: o.stroke ?? o.color,
    pointBorderWidth: o.bw ?? 0,
    fill: false,
    tension: 0,
  };
  if (o.breaks) {
    const br = o.breaks;
    ds.segment = { borderColor: (c: any) => (br.includes(c.p0.parsed.x) ? 'rgba(0,0,0,0)' : lc) };
  }
  return ds;
}

function panelDatasets(i: number) {
  if (i === 0) {
    return [makeSeries(gamma, { color: RED, lineColor: 'rgba(255,60,60,0.8)', errColor: 'rgba(255,70,70,0.75)', style: 'rect', r: 5.5, cap: 4.5 })];
  }
  if (i === 1) {
    return [makeSeries(xray, { color: GREEN, style: 'circle', r: 3.6, cap: 4, breaks: xrayBreakAfter })];
  }
  if (i === 2) {
    return [makeSeries(optical, { color: RED, style: 'circle', r: 2.7, line: false })];
  }
  return [
    makeSeries(r230, { color: RED, lineColor: 'rgba(255,40,40,0.9)', errColor: 'rgba(255,90,90,0.8)', style: 'rect', r: 4 }),
    makeSeries(r143, { color: BLUE, style: 'triangle', r: 4 }),
    makeSeries(r86, { color: GREEN, style: 'rect', r: 4 }),
    makeSeries(r43, { color: '#b0a800', lineColor: '#333', errColor: '#222', stroke: '#000', bw: 1, style: 'triangle', r: 4 }),
    makeSeries(r37, { color: MAGENTA, errColor: 'rgba(255,90,255,0.8)', style: 'rect', r: 4.5 }),
    makeSeries(r32, { color: CYAN, style: 'circle', r: 3.5 }),
    makeSeries(r23, { color: BLACK, lineColor: '#333', errColor: '#333', style: 'circle', r: 3.3 }),
    makeSeries(r15, { color: BLUE, errColor: 'rgba(110,110,255,0.7)', style: 'circle', r: 3.4 }),
    makeSeries(r10, { color: RED, style: 'circle', r: 3.3 }),
    makeSeries(r8, { color: CYAN, style: 'circle', r: 3.5 }),
    makeSeries(r5, { color: GREEN, style: 'circle', r: 4 }),
  ];
}

function panelPlugin(i: number) {
  const p = PANELS[i];
  return {
    id: 'panel' + i,
    beforeDatasetsDraw(chart: any) {
      const { ctx, chartArea: a, scales } = chart;
      const x = scales.x, y = scales.y;
      ctx.save();
      ctx.lineWidth = 2.2;
      ctx.strokeStyle = '#ffff00';
      yellowLines.forEach(v => {
        const px = x.getPixelForValue(v);
        ctx.beginPath(); ctx.moveTo(px, a.top); ctx.lineTo(px, a.bottom); ctx.stroke();
      });
      ctx.lineWidth = 1;
      ctx.strokeStyle = '#333';
      ctx.setLineDash([2, 3]);
      eventLines.forEach(v => {
        const px = Math.round(x.getPixelForValue(v)) + 0.5;
        ctx.beginPath(); ctx.moveTo(px, a.top); ctx.lineTo(px, a.bottom); ctx.stroke();
      });
      ctx.setLineDash([]);
      ctx.beginPath();
      ctx.rect(a.left, a.top, a.right - a.left, a.bottom - a.top);
      ctx.clip();
      chart.data.datasets.forEach((ds: any, di: number) => {
        if (!ds.errs) return;
        const meta = chart.getDatasetMeta(di);
        ctx.strokeStyle = ds.errColor;
        ctx.lineWidth = 1;
        ds.data.forEach((d: any, j: number) => {
          const e = ds.errs[j];
          if (!e) return;
          const px = meta.data[j].x;
          const y1 = y.getPixelForValue(d.y - e);
          const y2 = y.getPixelForValue(d.y + e);
          const c = ds.cap;
          ctx.beginPath();
          ctx.moveTo(px, y1); ctx.lineTo(px, y2);
          ctx.moveTo(px - c, y1); ctx.lineTo(px + c, y1);
          ctx.moveTo(px - c, y2); ctx.lineTo(px + c, y2);
          ctx.stroke();
        });
      });
      ctx.restore();
    },
    afterDatasetsDraw(chart: any) {
      const { ctx, chartArea: a, scales } = chart;
      const x = scales.x, y = scales.y;
      ctx.save();
      ctx.strokeStyle = '#222';
      ctx.lineWidth = 1.2;
      ctx.strokeRect(a.left, a.top, a.right - a.left, a.bottom - a.top);
      ctx.lineWidth = 1;
      ctx.beginPath();
      const first = Math.ceil(p.yMin / p.yStep - 1e-9) * p.yStep;
      for (let v = first; v <= p.yMax + 1e-9; v += p.yStep) {
        const py = y.getPixelForValue(v);
        const major = p.yLabels.some(l => Math.abs(l - v) < 1e-6);
        const len = major ? 10 : 5;
        ctx.moveTo(a.left, py); ctx.lineTo(a.left + len, py);
        ctx.moveTo(a.right, py); ctx.lineTo(a.right - len, py);
      }
      for (let v = 700; v <= X_MAX; v += 50) {
        const px = x.getPixelForValue(v);
        const len = v % 100 === 0 ? 10 : 5;
        ctx.moveTo(px, a.top); ctx.lineTo(px, a.top + len);
        ctx.moveTo(px, a.bottom); ctx.lineTo(px, a.bottom - len);
      }
      ctx.stroke();

      ctx.fillStyle = '#000';
      ctx.font = `18px ${SANS}`;
      ctx.textAlign = 'left';
      ctx.textBaseline = 'middle';
      ctx.fillText(p.tag, a.left + 3, a.top + 28);

      p.titles.forEach(t => drawRotated(ctx, t.x, t.y, t.runs));

      if (i === 0) {
        ctx.font = `17px ${SANS}`;
        ctx.textAlign = 'left';
        ctx.textBaseline = 'alphabetic';
        ctx.fillText('August 2008', 78, 38);
        ctx.fillText('January 2011', 597, 38);
      }
      if (i === 1) {
        ctx.font = `22px ${SERIF}`;
        ctx.fillStyle = RED;
        ctx.textAlign = 'center';
        ctx.textBaseline = 'middle';
        eventNames.forEach((n, k) => ctx.fillText(n, x.getPixelForValue(eventLabelJD[k]), a.top + 20));
      }
      if (i === 2) {
        ctx.font = `15px ${SERIF}`;
        ctx.fillStyle = RED;
        ctx.textAlign = 'center';
        ctx.textBaseline = 'middle';
        ctx.fillText('V', x.getPixelForValue(1599), y.getPixelForValue(19.3));
      }
      if (i === 3) {
        ctx.font = `15px ${SERIF}`;
        (ctx as any).letterSpacing = '1px';
        ctx.textAlign = 'right';
        ctx.textBaseline = 'middle';
        legendLabels.forEach((s, k) => {
          ctx.fillStyle = legendColors[k];
          ctx.fillText(s, a.right - 1, a.top + 103.5 + k * 18.6);
        });
        (ctx as any).letterSpacing = '0px';
        ctx.fillStyle = '#000';
        ctx.font = `17px ${SANS}`;
        ctx.textAlign = 'center';
        ctx.textBaseline = 'alphabetic';
        ctx.fillText('JD [2454000 +]', 366, 738);
      }
      ctx.restore();
    },
  };
}

function buildConfig(i: number): any {
  const p = PANELS[i];
  const isBottom = i === 3;
  return {
    type: 'line',
    data: { datasets: panelDatasets(i) },
    options: {
      animation: false,
      responsive: false,
      events: [],
      layout: {
        padding: {
          left: LEFT - Y_AXIS_W,
          right: W - RIGHT,
          top: p.top,
          bottom: isBottom ? H - p.bottom - X_AXIS_H : H - p.bottom,
        },
      },
      plugins: { legend: { display: false }, tooltip: { enabled: false }, title: { display: false } },
      scales: {
        x: {
          type: 'linear', min: X_MIN, max: X_MAX, display: isBottom,
          grid: { display: false, drawTicks: false }, border: { display: false },
          ticks: { font: { family: TICKFONT, size: 18 }, color: '#000', padding: 6, maxRotation: 0, autoSkip: false, callback: (v: number) => String(v) },
          afterBuildTicks: (s: any) => { s.ticks = X_LABELS.map(v => ({ value: v })); },
          afterFit: (s: any) => { s.height = isBottom ? X_AXIS_H : 0; },
        },
        y: {
          type: 'linear', min: p.yMin, max: p.yMax,
          grid: { display: false, drawTicks: false }, border: { display: false },
          ticks: { font: { family: TICKFONT, size: 18 }, color: '#000', padding: 13, autoSkip: false, callback: (v: number) => String(v) },
          afterBuildTicks: (s: any) => { s.ticks = p.yLabels.map(v => ({ value: v })); },
          afterFit: (s: any) => { s.width = Y_AXIS_W; },
        },
      },
    },
    plugins: [panelPlugin(i)],
  };
}

export default function App() {
  const refs = useRef<(HTMLCanvasElement | null)[]>([]);
  useEffect(() => {
    const charts = PANELS.map((_, i) => new Chart(refs.current[i] as HTMLCanvasElement, buildConfig(i)));
    return () => charts.forEach(c => c.destroy());
  }, []);
  return (
    <div style={{ position: 'absolute', left: 0, top: 0, width: W, height: H, background: '#fff' }}>
      {PANELS.map((_, i) => (
        <canvas
          key={i}
          ref={el => { refs.current[i] = el; }}
          width={W}
          height={H}
          style={{ position: 'absolute', left: 0, top: 0, width: W, height: H }}
        />
      ))}
    </div>
  );
}
